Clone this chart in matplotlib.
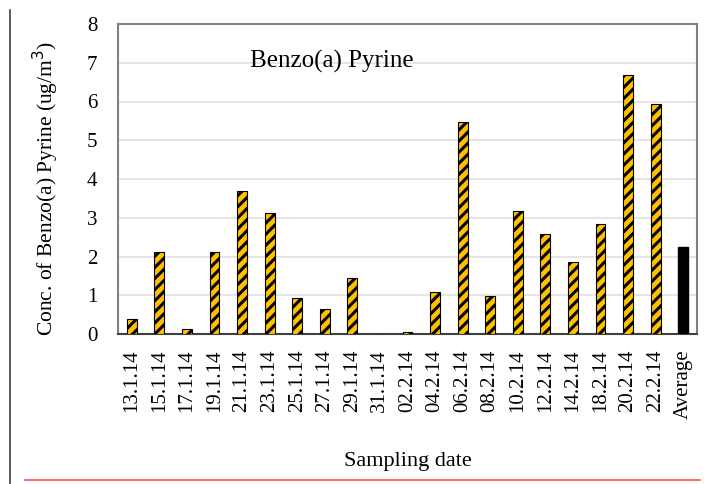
import numpy as np
import matplotlib.pyplot as plt
from matplotlib.lines import Line2D

plt.rcParams['font.family'] = ['Liberation Serif', 'DejaVu Serif']
plt.rcParams['hatch.linewidth'] = 2.2

dates = ["13.1.14", "15.1.14", "17.1.14", "19.1.14", "21.1.14", "23.1.14",
         "25.1.14", "27.1.14", "29.1.14", "31.1.14", "02.2.14", "04.2.14",
         "06.2.14", "08.2.14", "10.2.14", "12.2.14", "14.2.14", "18.2.14",
         "20.2.14", "22.2.14"]
conc = [0.40, 2.12, 0.12, 2.12, 3.69, 3.12, 0.93, 0.65, 1.45, 0.0, 0.05,
        1.08, 5.47, 0.98, 3.17, 2.58, 1.86, 2.84, 6.68, 5.94]
average = 2.25

fig = plt.figure(figsize=(7.07, 4.84), dpi=100)
ax = fig.add_axes([118 / 707, 1 - 334 / 484, 579 / 707, 310 / 484])

x = np.arange(len(dates))
ax.bar(x, conc, width=0.36, color="#FFC000", edgecolor="black",
       hatch="///", linewidth=0.8, zorder=3)
ax.bar(len(dates), average, width=0.36, color="black", edgecolor="black", zorder=3)

ax.set_xlim(-0.5, len(dates) + 0.5)
ax.set_ylim(0, 8)
ax.set_yticks(range(0, 9))
ax.set_xticks(list(x) + [len(dates)])
ax.set_xticklabels(dates + ["Average"], rotation=90, fontsize=15)
ax.tick_params(axis="y", labelsize=15, length=0, pad=15)
ax.tick_params(axis="x", length=0, pad=11)
ax.grid(axis="y", color="#e0e0e0", linewidth=1.2, zorder=0)
for s in ax.spines.values():
    s.set_color("#808080")
    s.set_linewidth(1.5)
ax.spines["bottom"].set_color("#404040")

ax.text(0.228, 0.86, "Benzo(a) Pyrine", transform=ax.transAxes, fontsize=18)
ax.set_ylabel("Conc. of Benzo(a) Pyrine (ug/m$^3$)", fontsize=15.5)
ax.yaxis.set_label_coords(-0.098, 0.47)
ax.set_xlabel("Sampling date", fontsize=16, labelpad=24)

# page decorations around the figure
fig.add_artist(Line2D([10 / 707, 10 / 707], [0, 1 - 10 / 484], color="#404040", linewidth=1.2))
fig.add_artist(Line2D([25 / 707, 700 / 707], [1 - 480 / 484] * 2, color="#ff5050", linewidth=1.2))

fig.savefig("out.png", dpi=100)
